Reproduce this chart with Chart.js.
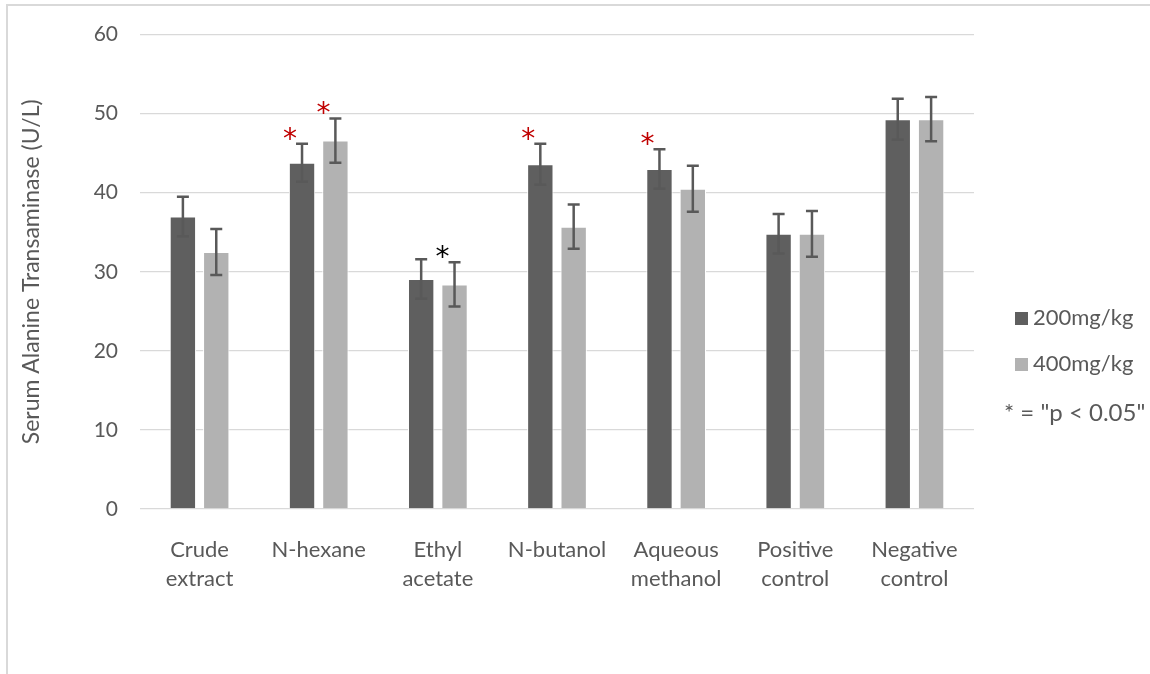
<!DOCTYPE html>
<html>
<head>
<meta charset="utf-8">
<title>Serum Alanine Transaminase</title>
<script src="https://cdn.jsdelivr.net/npm/chart.js@4.4.1/dist/chart.umd.min.js"></script>
<style>
  html, body { margin: 0; padding: 0; background: #fff; }
  #wrap { width: 1150px; height: 674px; position: relative; }
</style>
</head>
<body>
<div id="wrap"><canvas id="chart"></canvas></div>
<script>
// data
const categories = [["Crude", "extract"], "N-hexane", ["Ethyl", "acetate"], "N-butanol", ["Aqueous", "methanol"], ["Positive", "control"], ["Negative", "control"]];
const dose200 = [37.0, 43.8, 29.1, 43.6, 43.0, 34.8, 49.3];
const dose400 = [32.5, 46.6, 28.4, 35.7, 40.5, 34.8, 49.3];
const err200 = [2.5, 2.4, 2.5, 2.6, 2.5, 2.5, 2.6];
const err400 = [2.9, 2.8, 2.8, 2.8, 2.9, 2.9, 2.8];
// significance marks: [dataset index, category index, colour]
const starMarks = [[0, 1, "#c00000"], [1, 1, "#c00000"], [1, 2, "#000000"], [0, 3, "#c00000"], [0, 4, "#c00000"]];
const yTicks = [0, 10, 20, 30, 40, 50, 60];

const textGray = "#595959";
const fontFam = "Lato, 'Open Sans', sans-serif";

// frame round the whole chart
const framePlugin = {
    id: "frame",
    beforeDraw(chart) {
        const ctx = chart.ctx;
        ctx.save();
        ctx.strokeStyle = "#d9d9d9";
        ctx.lineWidth = 2;
        ctx.strokeRect(7, 5, 1160, 700);
        ctx.restore();
    }
};

// error bars and stars, placed with the chart's own scales
const errorPlugin = {
    id: "errorBars",
    afterDatasetsDraw(chart) {
        const ctx = chart.ctx;
        const y = chart.scales.y;
        const errs = [err200, err400];
        ctx.save();
        ctx.strokeStyle = "#595959";
        ctx.lineWidth = 2.5;
        chart.data.datasets.forEach((ds, di) => {
            const meta = chart.getDatasetMeta(di);
            meta.data.forEach((bar, i) => {
                const v = ds.data[i];
                const top = y.getPixelForValue(v + errs[di][i]);
                const bot = y.getPixelForValue(v - errs[di][i]);
                const x = bar.x;
                ctx.beginPath();
                ctx.moveTo(x, top); ctx.lineTo(x, bot);
                ctx.moveTo(x - 6, top); ctx.lineTo(x + 6, top);
                ctx.moveTo(x - 6, bot); ctx.lineTo(x + 6, bot);
                ctx.stroke();
            });
        });
        ctx.font = "28px 'DejaVu Sans', sans-serif";
        ctx.textAlign = "center";
        ctx.textBaseline = "alphabetic";
        starMarks.forEach(([di, i, col]) => {
            const bar = chart.getDatasetMeta(di).data[i];
            const v = chart.data.datasets[di].data[i];
            const top = y.getPixelForValue(v + errs[di][i]);
            ctx.fillStyle = col;
            ctx.fillText("*", bar.x - 12, top + 4);
        });
        ctx.restore();
    }
};

// legend drawn at the right
const legendPlugin = {
    id: "sideLegend",
    afterDraw(chart) {
        const ctx = chart.ctx;
        ctx.save();
        ctx.font = "22px " + fontFam;
        ctx.textBaseline = "middle";
        ctx.textAlign = "left";
        const items = chart.data.datasets;
        items.forEach((ds, k) => {
            const yy = 318 + k * 46;
            ctx.fillStyle = ds.backgroundColor;
            ctx.fillRect(1015, yy - 6, 13, 13);
            ctx.fillStyle = textGray;
            ctx.fillText(ds.label, 1033, yy);
        });
        ctx.font = "24px " + fontFam;
        ctx.fillText('* = "p < 0.05"', 1004, 413);
        ctx.restore();
    }
};

new Chart(document.getElementById("chart"), {
    type: "bar",
    data: {
        labels: categories,
        datasets: [
            { label: "200mg/kg", data: dose200, backgroundColor: "#5f5f5f", borderColor: "#ffffff", borderWidth: 1 },
            { label: "400mg/kg", data: dose400, backgroundColor: "#b2b2b2", borderColor: "#ffffff", borderWidth: 1 }
        ]
    },
    options: {
        responsive: true,
        maintainAspectRatio: false,
        animation: false,
        devicePixelRatio: 1,
        layout: { padding: { top: 33, right: 176, bottom: 0, left: 0 } },
        datasets: { bar: { categoryPercentage: 0.56, barPercentage: 0.79 } },
        plugins: { legend: { display: false }, tooltip: { enabled: false } },
        scales: {
            x: {
                grid: { display: false },
                border: { display: false },
                ticks: { color: textGray, font: { family: fontFam, size: 22, lineHeight: 1.32 }, padding: 18, maxRotation: 0, autoSkip: false },
                afterFit(s) { s.height = 165; }
            },
            y: {
                min: 0, max: 60,
                afterBuildTicks(s) { s.ticks = yTicks.map(v => ({ value: v })); },
                grid: { color: "#d9d9d9", lineWidth: 1.3, drawTicks: false },
                border: { display: false },
                ticks: { color: textGray, font: { family: fontFam, size: 21 }, padding: 22 },
                title: { display: true, text: "Serum Alanine Transaminase (U/L)", color: textGray, font: { family: fontFam, size: 23 }, padding: { top: 18, bottom: 0 } },
                afterFit(s) { s.width = 140; }
            }
        }
    },
    plugins: [framePlugin, errorPlugin, legendPlugin]
});
</script>
</body>
</html>
